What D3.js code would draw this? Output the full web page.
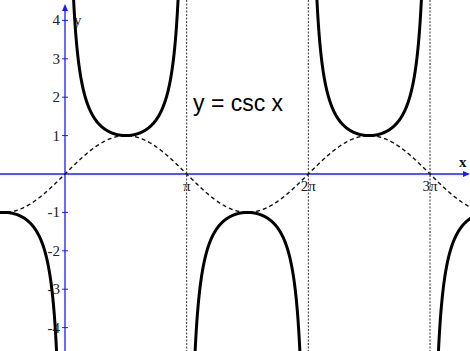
<!DOCTYPE html>
<html><head><meta charset="utf-8">
<script src="https://cdn.jsdelivr.net/npm/d3@7"></script>
<style>body{margin:0;background:#fff}svg{display:block}</style>
</head><body>
<script>
const PI = Math.PI;
// asymptote positions (multiples of pi)
const asymptotes = [1, 2, 3];
const xTickLabels = ["π", "2π", "3π"];
const yTicks = [-4, -3, -2, -1, 1, 2, 3, 4];
// csc branches: [start, end] in multiples of pi
const branches = [[-1, 0], [0, 1], [1, 2], [2, 3], [3, 4]];
const titleText = "y = csc x";

const W = 470, H = 351;
const x = d3.scaleLinear().domain([0, 3 * PI]).range([65, 430]);
const y = d3.scaleLinear().domain([0, 4]).range([174, 20.4]);

const svg = d3.select("body").append("svg").attr("width", W).attr("height", H);
const defs = svg.append("defs");
defs.append("clipPath").attr("id", "c").append("rect").attr("x", 0).attr("y", 0).attr("width", W).attr("height", H);

const blue = "#1a1aff";
// asymptotes
svg.selectAll(".asym").data(asymptotes).join("line")
  .attr("x1", d => x(d * PI)).attr("x2", d => x(d * PI))
  .attr("y1", 0).attr("y2", H)
  .attr("stroke", "#333").attr("stroke-width", 1).attr("stroke-dasharray", "2,1.5");

// axes
svg.append("line").attr("x1", 0).attr("x2", W - 4).attr("y1", y(0)).attr("y2", y(0)).attr("stroke", blue).attr("stroke-width", 1.3);
svg.append("line").attr("x1", x(0)).attr("x2", x(0)).attr("y1", H).attr("y2", 8).attr("stroke", blue).attr("stroke-width", 1.3);
svg.append("path").attr("d", `M${W},${y(0)} l-7,-3 l0,6 z`).attr("fill", blue);
svg.append("path").attr("d", `M${x(0)},4 l-3,7 l6,0 z`).attr("fill", blue);

// y ticks
svg.selectAll(".yt").data(yTicks).join("line")
  .attr("x1", x(0) - 3).attr("x2", x(0) + 3).attr("y1", d => y(d)).attr("y2", d => y(d))
  .attr("stroke", blue).attr("stroke-width", 1);
svg.selectAll(".yl").data(yTicks).join("text")
  .attr("x", 60).attr("y", d => y(d) + 5).attr("text-anchor", "end")
  .attr("font-family", "Liberation Serif").attr("font-size", 15).attr("fill", "#222")
  .text(d => d);

// x labels
svg.selectAll(".xl").data(asymptotes).join("text")
  .attr("x", (d, i) => x(d * PI)).attr("y", 191).attr("text-anchor", "middle")
  .attr("font-family", "Liberation Serif").attr("font-size", 15).attr("fill", "#222")
  .text((d, i) => xTickLabels[i]);

svg.append("text").attr("x", 74).attr("y", 25).attr("font-family", "Liberation Serif").attr("font-size", 15).attr("fill", "#222").text("y");
svg.append("text").attr("x", 459).attr("y", 167).attr("font-family", "Liberation Serif").attr("font-weight", "bold").attr("font-size", 15).attr("fill", "#111").text("x");

// sine dashed
const xs = d3.range(x.invert(0), x.invert(W) + 0.01, 0.01);
const line = d3.line().x(d => x(d[0])).y(d => y(d[1]));
svg.append("path").datum(xs.map(t => [t, Math.sin(t)]))
  .attr("d", line).attr("fill", "none").attr("stroke", "#111").attr("stroke-width", 1.4).attr("stroke-dasharray", "4,3");

// csc branches
const g = svg.append("g").attr("clip-path", "url(#c)");
branches.forEach(b => {
  const a = b[0] * PI, e = b[1] * PI;
  const pts = d3.range(a + 0.02, e - 0.02, 0.005).map(t => [t, 1 / Math.sin(t)]).filter(p => Math.abs(p[1]) < 6);
  g.append("path").datum(pts).attr("d", line).attr("fill", "none").attr("stroke", "#000").attr("stroke-width", 3);
});

svg.append("text").attr("x", 193).attr("y", 111).attr("font-family", "Liberation Sans").attr("font-size", 23).attr("fill", "#000").text(titleText);
</script>
</body></html>
